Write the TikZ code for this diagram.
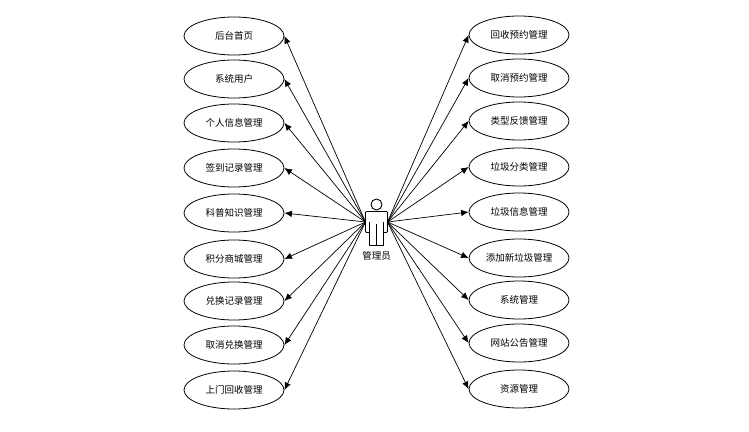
\documentclass[tikz,border=0pt]{standalone}
\usepackage{fontspec}
\usetikzlibrary{arrows.meta,shapes.geometric}
\newfontfamily\cjk{Noto Sans CJK SC}
\tikzset{
  usecase/.style={draw=black,line width=0.8pt,ellipse,minimum width=100pt,minimum height=38pt,inner sep=0pt,font=\cjk\fontsize{9.5}{11}\selectfont,text=black},
  assoc/.style={draw=black,line width=0.7pt,-{Latex[length=7.5pt,width=6.5pt]},shorten >=0pt},
  actorline/.style={draw=black,line width=0.9pt,line join=round},
  actorlabel/.style={font=\cjk\fontsize{9.5}{11}\selectfont,text=black,inner sep=0pt}
}
\begin{document}
\begin{tikzpicture}[x=1pt,y=-1pt]
\useasboundingbox (0,0) rectangle (749,431);
\foreach \n/\y/\t in {l1/36/后台首页,l2/79/系统用户,l3/123/个人信息管理,l4/168/签到记录管理,l5/213/科普知识管理,l6/259/积分商城管理,l7/301/兑换记录管理,l8/345/取消兑换管理,l9/390/上门回收管理}
  \node[usecase] (\n) at (234,\y) {\raisebox{-0.8pt}{\t}};
\foreach \n/\y/\t in {r1/35/回收预约管理,r2/78/取消预约管理,r3/121/类型反馈管理,r4/167/垃圾分类管理,r5/212/垃圾信息管理,r6/258/添加新垃圾管理,r7/300/系统管理,r8/343/网站公告管理,r9/389/资源管理}
  \node[usecase] (\n) at (519,\y) {\raisebox{-0.8pt}{\t}};
% actor
\draw[actorline] (376.5,204.5) circle (5.5);
\draw[actorline,rounded corners=1pt] (369.5,232.5) -- (365.5,232.5) -- (365.5,211.5) -- (387.5,211.5) -- (387.5,232.5) -- (383.5,232.5);
\draw[actorline] (369.5,222) -- (369.5,245.5) -- (383.5,245.5) -- (383.5,222);
\draw[actorline] (376.5,224) -- (376.5,245.5);
\node[actorlabel] (actor) at (376.5,255.5) {管理员};
\coordinate (al) at (365.5,222);
\coordinate (ar) at (387.5,222);
\foreach \n in {l1,l2,l3,l4,l5,l6,l7,l8,l9}
  \draw[assoc] (al) -- (\n.east);
\foreach \n in {r1,r2,r3,r4,r5,r6,r7,r8,r9}
  \draw[assoc] (ar) -- (\n.west);
\end{tikzpicture}
\end{document}
